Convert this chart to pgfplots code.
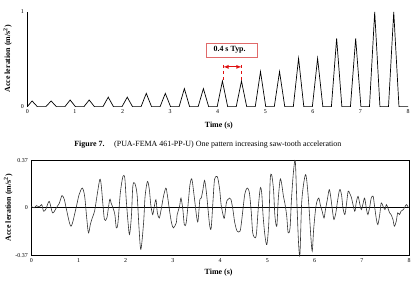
\documentclass[border=0pt]{standalone}
\usepackage{pgfplots}
\pgfplotsset{compat=1.18}
\usepackage{fontspec}
\setmainfont{Liberation Serif}
\definecolor{boxred}{HTML}{E06A6A}
\definecolor{arrred}{HTML}{E01010}
\begin{document}
\begin{tikzpicture}
\path[draw=none] (0bp,0bp) rectangle (414bp,282bp);
% ---------- top chart ----------
\begin{axis}[
  at={(26bp,175bp)}, anchor=south west, scale only axis,
  width=382bp, height=95bp,
  xmin=0, xmax=8, ymin=0, ymax=1,
  axis lines=left, axis line style={-, line width=0.7pt},
  x axis line style={draw=none},
  xtick={0,1,...,8}, ytick={0,1},
  major tick length=0pt,
  /pgf/number format/assume math mode=true,
  tick label style={font=\fontsize{6}{7}\selectfont},
  xticklabel style={yshift=1pt},
  xlabel={\textbf{Time (s)}},
  ylabel={\textbf{Acce leration (m/s\textsuperscript{2})}},
  label style={font=\fontsize{8}{9}\selectfont},
  xlabel style={at={(axis description cs:0.503,-0.2)}, anchor=center},
  ylabel style={at={(axis description cs:-0.052,0.505)}, anchor=center},
  clip=false,
]
\addplot[black, line width=0.7pt] coordinates {
(0,0)(0.1,0.06)(0.21,0)
(0.39,0)(0.5,0.06)(0.61,0)
(0.79,0)(0.9,0.07)(1.01,0)
(1.19,0)(1.3,0.07)(1.41,0)
(1.59,0)(1.7,0.10)(1.81,0)
(1.99,0)(2.1,0.10)(2.21,0)
(2.39,0)(2.5,0.14)(2.61,0)
(2.79,0)(2.9,0.14)(3.01,0)
(3.19,0)(3.3,0.19)(3.41,0)
(3.59,0)(3.7,0.19)(3.81,0)
(3.99,0)(4.1,0.27)(4.21,0)
(4.39,0)(4.5,0.27)(4.61,0)
(4.79,0)(4.9,0.37)(5.01,0)
(5.19,0)(5.3,0.37)(5.41,0)
(5.59,0)(5.7,0.51)(5.81,0)
(5.99,0)(6.1,0.51)(6.21,0)
(6.39,0)(6.5,0.72)(6.61,0)
(6.79,0)(6.9,0.72)(7.01,0)
(7.19,0)(7.3,1.0)(7.41,0)
(7.59,0)(7.7,1.0)(7.81,0)
(8,0)};
\draw[boxred, line width=0.6pt, fill=white] (axis cs:3.77,0.526) rectangle (axis cs:4.84,0.674);
\node[font=\fontsize{8}{9}\selectfont\bfseries, anchor=west] at (axis cs:3.84,0.60) {0.4 s Typ.};
\draw[arrred, dashed, line width=0.5pt] (axis cs:4.12,0.44) -- (axis cs:4.12,0.27);
\draw[arrred, dashed, line width=0.5pt] (axis cs:4.50,0.44) -- (axis cs:4.50,0.27);
\draw[arrred, line width=0.8pt, <->, >=latex] (axis cs:4.12,0.42) -- (axis cs:4.50,0.42);
\end{axis}
\node[anchor=west, font=\fontsize{8}{9}\selectfont, inner sep=0pt] at (73bp,137bp) {\textbf{Figure 7.}\hspace{1.2em}(PUA-FEMA 461-PP-U) One pattern increasing saw-tooth acceleration};
% ---------- bottom chart ----------
\begin{axis}[
  at={(30bp,26bp)}, anchor=south west, scale only axis,
  width=379bp, height=95bp,
  xmin=0, xmax=8, ymin=-0.37, ymax=0.37,
  axis line style={line width=0.7pt},
  xtick={0,1,...,8}, ytick={-0.37,0,0.37},
  yticklabels={-0.37,0,0.37},
  major tick length=0pt,
  /pgf/number format/assume math mode=true,
  tick label style={font=\fontsize{6}{7}\selectfont},
  xlabel={\textbf{Time (s)}},
  ylabel={\textbf{Acce leration (m/s\textsuperscript{2})}},
  label style={font=\fontsize{8}{9}\selectfont},
  xlabel style={at={(axis description cs:0.496,-0.18)}, anchor=center},
  ylabel style={at={(axis description cs:-0.061,0.5)}, anchor=center},
  clip=false,
]
\addplot[black, line width=0.9pt, forget plot] coordinates {(0,0)(8,0)};
\addplot[black!80, line width=0.6pt, smooth, tension=0.5] coordinates {
(0,0.01)(0.063,0)(0.11,0.017)(0.17,0.006)(0.22,0.025)(0.26,-0.027)(0.31,-0.009)
(0.38,0.05)(0.45,-0.04)(0.53,0)(0.59,0.033)(0.65,0.095)(0.70,0.064)(0.745,-0.014)
(0.84,-0.144)(0.94,-0.014)(1.01,0.10)(1.08,0.154)(1.13,0.09)(1.17,-0.066)(1.21,-0.196)
(1.25,-0.131)(1.29,-0.08)(1.34,-0.027)(1.39,0.09)(1.45,0.22)(1.48,0.18)(1.52,0.012)
(1.55,-0.092)(1.60,-0.08)(1.66,0.064)(1.69,0.037)(1.73,0)(1.77,-0.053)(1.80,-0.157)
(1.835,-0.118)(1.885,0.115)(1.94,0.245)(1.98,0.232)(2.01,0.064)(2.05,-0.118)(2.08,-0.209)
(2.12,-0.066)(2.15,0.167)(2.19,0.193)(2.24,0.105)(2.28,-0.15)(2.32,-0.325)(2.378,-0.118)
(2.41,0.09)(2.46,0.206)(2.50,0.142)(2.53,0.025)(2.57,-0.053)(2.60,0)(2.64,0.064)
(2.67,-0.04)(2.71,-0.08)(2.75,-0.014)(2.80,0.09)(2.85,0.154)(2.88,0.103)(2.93,-0.027)
(2.97,-0.118)(3.01,-0.157)(3.07,-0.118)(3.09,-0.053)(3.14,0.012)(3.17,0.076)(3.21,-0.014)
(3.24,-0.131)(3.28,-0.118)(3.33,0.064)(3.36,0.18)(3.40,0.225)(3.45,0.09)(3.50,-0.066)
(3.53,-0.105)(3.57,0.064)(3.60,0.076)(3.635,0.142)(3.67,0.214)(3.71,0.115)(3.75,-0.04)
(3.78,-0.144)(3.81,-0.157)(3.85,0.064)(3.88,0.22)(3.92,0.245)(3.95,0.232)(3.99,0.142)
(4.02,0.025)(4.06,-0.053)(4.09,-0.08)(4.13,0.037)(4.16,0.064)(4.20,0.076)(4.23,0.064)
(4.27,-0.014)(4.31,-0.118)(4.36,-0.183)(4.42,-0.183)(4.45,-0.118)(4.49,0.012)(4.52,0.103)
(4.55,0.142)(4.58,0.154)(4.62,0.115)(4.66,-0.04)(4.69,-0.196)(4.74,-0.235)(4.77,-0.196)
(4.81,0.012)(4.85,0.154)(4.88,0.115)(4.91,-0.066)(4.95,-0.222)(4.99,-0.287)(5.03,-0.118)
(5.06,0.22)(5.09,0.259)(5.13,0.142)(5.16,-0.066)(5.20,-0.144)(5.23,0.064)(5.27,0.22)
(5.30,0.193)(5.34,0.09)(5.37,0.037)(5.41,-0.066)(5.44,-0.196)(5.48,-0.157)(5.51,0.064)
(5.55,0.271)(5.59,0.37)(5.62,0.09)(5.66,-0.274)(5.69,-0.36)(5.725,0.03)(5.77,0.193)
(5.81,0.259)(5.84,0.193)(5.88,0.012)(5.92,-0.222)(5.95,-0.339)(5.98,-0.17)(6.02,-0.014)
(6.05,0.05)(6.09,0.076)(6.12,0.025)(6.16,-0.027)(6.20,-0.08)(6.23,-0.014)(6.27,0.064)
(6.31,0.142)(6.34,0.09)(6.38,-0.027)(6.41,-0.092)(6.45,-0.04)(6.48,0.037)(6.53,0.142)
(6.57,0.103)(6.60,0)(6.64,-0.053)(6.67,0.012)(6.71,0.129)(6.74,0.115)(6.78,0.08)
(6.85,-0.027)(6.88,0.037)(6.92,0.09)(6.96,0.025)(6.99,-0.014)(7.03,0.037)(7.06,0.076)
(7.10,-0.014)(7.13,-0.053)(7.17,0.012)(7.20,0.076)(7.24,0.09)(7.27,0.012)(7.31,-0.092)
(7.34,-0.131)(7.38,-0.053)(7.41,0.037)(7.45,0.012)(7.49,-0.014)(7.52,0.025)(7.55,0)
(7.59,-0.04)(7.62,-0.053)(7.66,-0.092)(7.69,-0.144)(7.73,-0.105)(7.76,-0.04)(7.80,-0.053)
(7.83,-0.027)(7.88,-0.014)(7.92,0.012)(7.95,0.025)(7.99,0)};
\end{axis}
\end{tikzpicture}
\end{document}
